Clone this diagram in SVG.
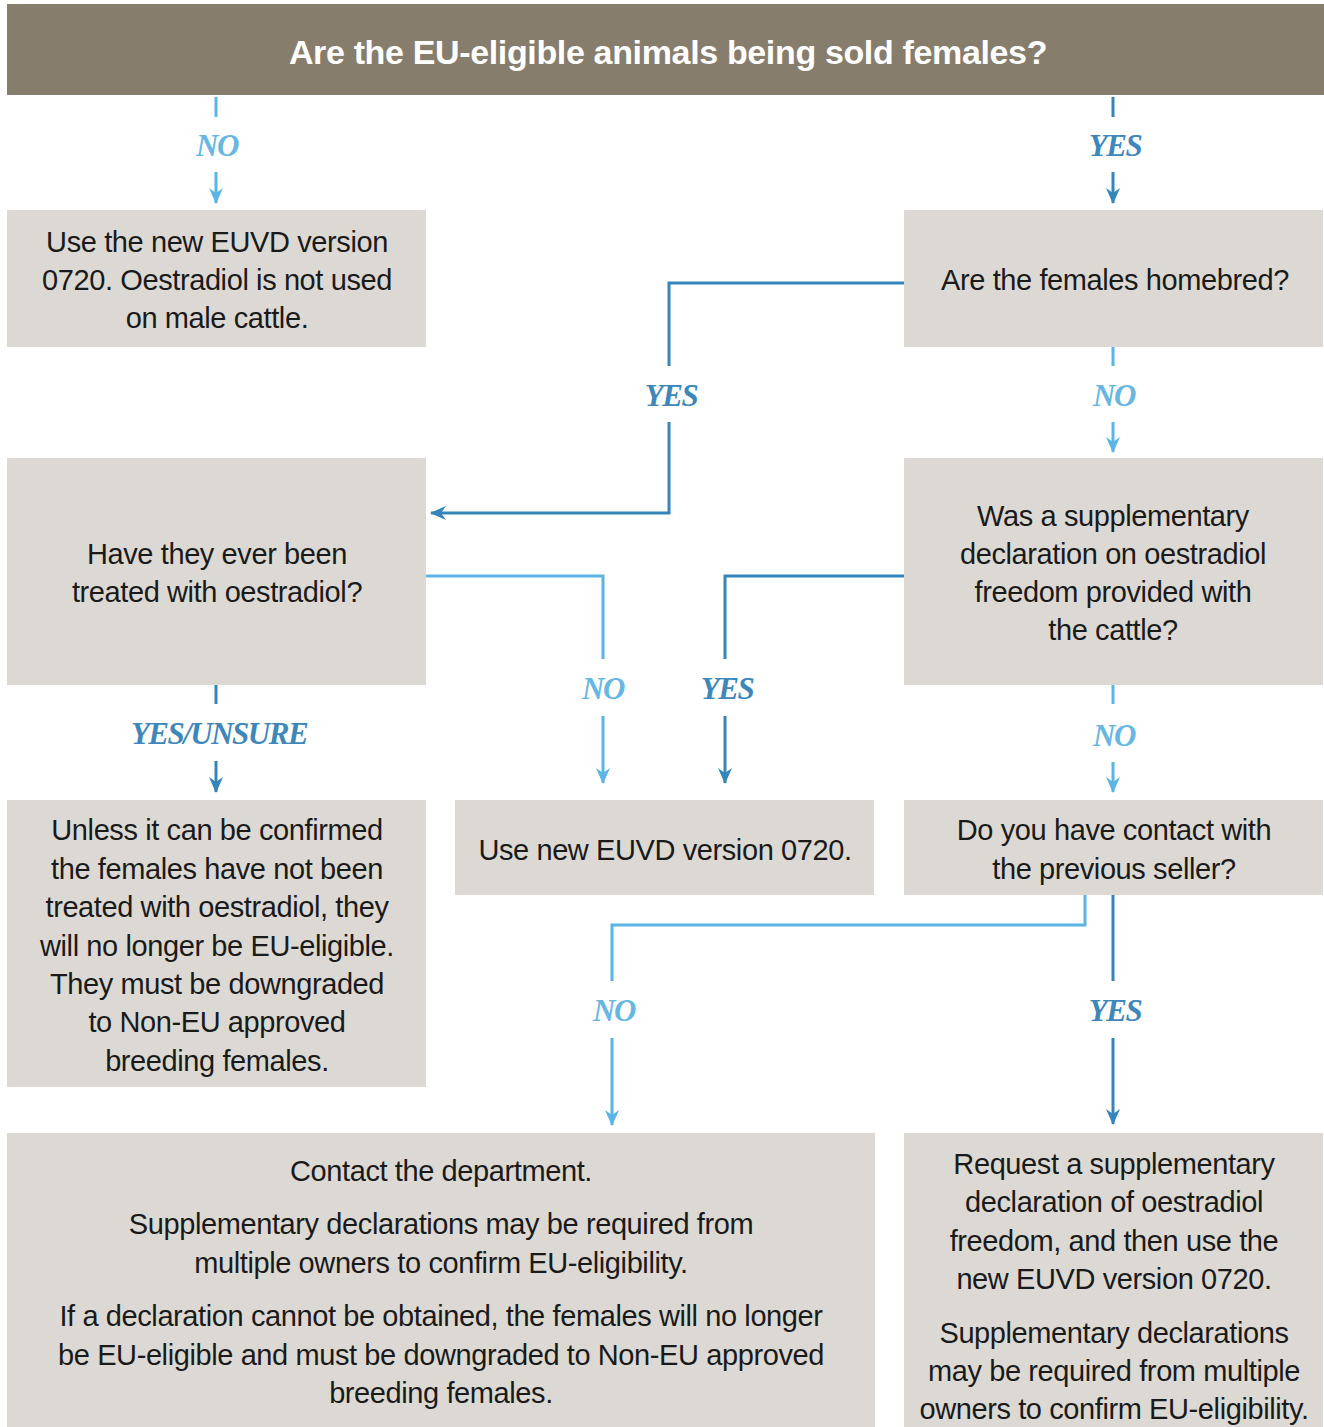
<svg xmlns="http://www.w3.org/2000/svg" width="1324" height="1427" viewBox="0 0 1324 1427">
<style>
.box{fill:#dcd9d4}
.t{font-family:"Liberation Sans",Arial,sans-serif;font-size:29px;fill:#1a1a1a;text-anchor:middle;letter-spacing:-0.4px}
.h{font-family:"Liberation Sans",Arial,sans-serif;font-size:34px;font-weight:bold;fill:#ffffff;text-anchor:middle;letter-spacing:-0.35px}
.lbl{font-family:"Liberation Serif","Times New Roman",serif;font-size:31px;font-weight:bold;font-style:italic;text-anchor:middle;letter-spacing:-1.5px}
.no{fill:#67b7e3}
.yes{fill:#3d87ba}
.cn{fill:none;stroke:#5ab4e5;stroke-width:3}
.cy{fill:none;stroke:#3485bb;stroke-width:3}
</style>
<defs>
<marker id="an" viewBox="0 0 16 14" refX="15" refY="7" markerWidth="16" markerHeight="14" markerUnits="userSpaceOnUse" orient="auto">
<path d="M0,0 L16,7 L0,14 L5,7 Z" fill="#5ab4e5"/>
</marker>
<marker id="ay" viewBox="0 0 16 14" refX="15" refY="7" markerWidth="16" markerHeight="14" markerUnits="userSpaceOnUse" orient="auto">
<path d="M0,0 L16,7 L0,14 L5,7 Z" fill="#3485bb"/>
</marker>
</defs>
<rect width="1324" height="1427" fill="#ffffff"/>

<g id="header">
<rect x="7" y="4" width="1317" height="91" fill="#877d6c"/>
<text class="h" x="668" y="64">Are the EU-eligible animals being sold females?</text>
</g>

<g id="boxA">
<rect class="box" x="7" y="210" width="419" height="137"/>
<text class="t" x="217" y="252">Use the new EUVD version</text>
<text class="t" x="217" y="290">0720. Oestradiol is not used</text>
<text class="t" x="217" y="328">on male cattle.</text>
</g>

<g id="boxB">
<rect class="box" x="904" y="210" width="419" height="137"/>
<text class="t" x="1115" y="290">Are the females homebred?</text>
</g>

<g id="boxC">
<rect class="box" x="7" y="458" width="419" height="227"/>
<text class="t" x="217" y="564">Have they ever been</text>
<text class="t" x="217" y="602">treated with oestradiol?</text>
</g>

<g id="boxD">
<rect class="box" x="904" y="458" width="419" height="227"/>
<text class="t" x="1113" y="526">Was a supplementary</text>
<text class="t" x="1113" y="564">declaration on oestradiol</text>
<text class="t" x="1113" y="602">freedom provided with</text>
<text class="t" x="1113" y="640">the cattle?</text>
</g>

<g id="boxE">
<rect class="box" x="7" y="800" width="419" height="287"/>
<text class="t" x="217" y="840">Unless it can be confirmed</text>
<text class="t" x="217" y="879">the females have not been</text>
<text class="t" x="217" y="917">treated with oestradiol, they</text>
<text class="t" x="217" y="956">will no longer be EU-eligible.</text>
<text class="t" x="217" y="994">They must be downgraded</text>
<text class="t" x="217" y="1032">to Non-EU approved</text>
<text class="t" x="217" y="1071">breeding females.</text>
</g>

<g id="boxF">
<rect class="box" x="455" y="800" width="419" height="95"/>
<text class="t" x="665" y="860">Use new EUVD version 0720.</text>
</g>

<g id="boxG">
<rect class="box" x="904" y="800" width="419" height="95"/>
<text class="t" x="1114" y="840">Do you have contact with</text>
<text class="t" x="1114" y="879">the previous seller?</text>
</g>

<g id="boxH">
<rect class="box" x="7" y="1133" width="868" height="294"/>
<text class="t" x="441" y="1181">Contact the department.</text>
<text class="t" x="441" y="1234">Supplementary declarations may be required from</text>
<text class="t" x="441" y="1273">multiple owners to confirm EU-eligibility.</text>
<text class="t" x="441" y="1326">If a declaration cannot be obtained, the females will no longer</text>
<text class="t" x="441" y="1365">be EU-eligible and must be downgraded to Non-EU approved</text>
<text class="t" x="441" y="1403">breeding females.</text>
</g>

<g id="boxI">
<rect class="box" x="904" y="1133" width="419" height="294"/>
<text class="t" x="1114" y="1174">Request a supplementary</text>
<text class="t" x="1114" y="1212">declaration of oestradiol</text>
<text class="t" x="1114" y="1251">freedom, and then use the</text>
<text class="t" x="1114" y="1289">new EUVD version 0720.</text>
<text class="t" x="1114" y="1343">Supplementary declarations</text>
<text class="t" x="1114" y="1381">may be required from multiple</text>
<text class="t" x="1114" y="1419">owners to confirm EU-eligibility.</text>
</g>

<g id="connectors">
<path class="cn" d="M216,97 V117"/>
<path class="cn" d="M216,172 V203" marker-end="url(#an)"/>
<text class="lbl no" x="217" y="156">NO</text>
<path class="cy" d="M1113,97 V117"/>
<path class="cy" d="M1113,172 V203" marker-end="url(#ay)"/>
<text class="lbl yes" x="1115" y="156">YES</text>
<path class="cy" d="M904,283 H669 V366"/>
<path class="cy" d="M669,422 V513 H431" marker-end="url(#ay)"/>
<text class="lbl yes" x="671" y="406">YES</text>
<path class="cn" d="M1113,347 V366"/>
<path class="cn" d="M1113,422 V452" marker-end="url(#an)"/>
<text class="lbl no" x="1114" y="406">NO</text>
<path class="cn" d="M426,576 H603 V659"/>
<path class="cn" d="M603,716 V783" marker-end="url(#an)"/>
<text class="lbl no" x="603" y="699">NO</text>
<path class="cy" d="M904,576 H725 V659"/>
<path class="cy" d="M725,716 V783" marker-end="url(#ay)"/>
<text class="lbl yes" x="727" y="699">YES</text>
<path class="cy" d="M216,685 V704"/>
<path class="cy" d="M216,761 V792" marker-end="url(#ay)"/>
<text class="lbl yes" x="219" y="744">YES/UNSURE</text>
<path class="cn" d="M1113,685 V704"/>
<path class="cn" d="M1113,762 V792" marker-end="url(#an)"/>
<text class="lbl no" x="1114" y="746">NO</text>
<path class="cn" d="M1085,895 V925 H612 V981"/>
<path class="cn" d="M612,1038 V1125" marker-end="url(#an)"/>
<text class="lbl no" x="614" y="1021">NO</text>
<path class="cy" d="M1113,895 V981"/>
<path class="cy" d="M1113,1038 V1124" marker-end="url(#ay)"/>
<text class="lbl yes" x="1115" y="1021">YES</text>
</g>
</svg>
